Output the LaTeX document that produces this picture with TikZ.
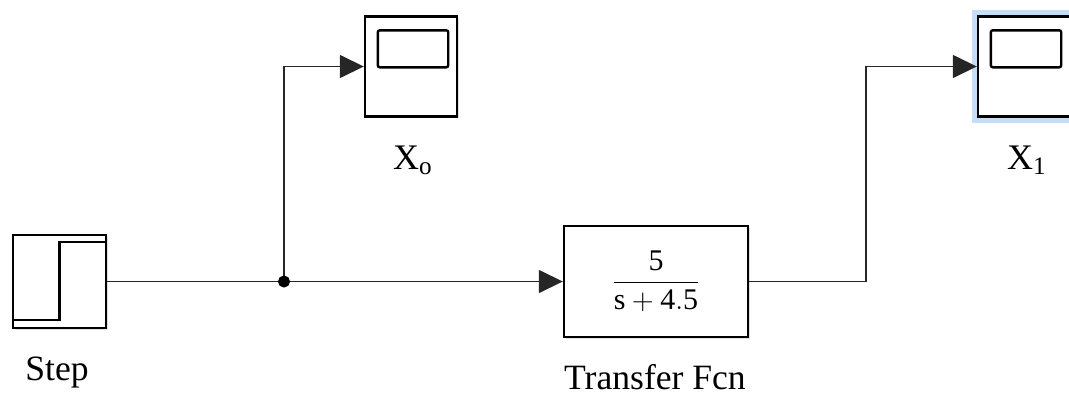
\documentclass[tikz,border=0pt]{standalone}
\usepackage{amsmath}
\usepackage{fontspec}
\setmainfont{Liberation Serif}
\usepackage{tikz}
\usetikzlibrary{arrows.meta}
\usetikzlibrary{shadows}
\usepackage{xcolor}
\definecolor{selblue}{RGB}{197,221,247}

\begin{document}
\begin{tikzpicture}[x=0.5pt,y=-0.5pt,
    block/.style={draw, line width=1.2pt, fill=white, inner sep=0pt,
        drop shadow={shadow xshift=0.8pt, shadow yshift=-0.8pt, opacity=0.25}},
    scopebox/.style={block, minimum width=46pt, minimum height=50pt},
    sig/.style={line width=0.75pt, draw=black!85},
    sigarrow/.style={sig, -{Triangle[length=12pt,width=11.5pt]}},
    lbl/.style={font=\fontsize{17.8}{20}\selectfont, inner sep=0pt}]
\useasboundingbox (0,0) rectangle (1069,397);
% blocks
\node[block, minimum width=46.5pt, minimum height=46.5pt] (step) at (59.5,281.5) {};
\node[scopebox] (scopeo) at (411,66.5) {};
\fill[selblue] (972,10) rectangle (1080,123);
\node[scopebox] (scopei) at (1024,66.5) {};
\node[block, minimum width=92pt, minimum height=55.5pt,
    font=\fontsize{15}{17}\selectfont] (tf) at (656,281.5)
    {$\dfrac{\mathrm{5}}{\mathrm{s}+\mathrm{4.5}}$};
% block insides
\draw[line width=1.2pt] ([yshift=-4pt]step.north east) -- ([yshift=-4pt]step.north)
    -- ([yshift=4.5pt]step.south) -- ([yshift=4.5pt]step.south west);
\foreach \s in {scopeo,scopei}
    \draw[line width=1.2pt, rounded corners=1pt] ([xshift=7pt,yshift=-7.5pt]\s.north west)
        rectangle ([xshift=-5pt,yshift=-26pt]\s.north east);
% labels
\node[lbl] (steplbl) at (57,372) {Step};
\node[lbl, font=\fontsize{18}{20}\selectfont] (xolbl) at (413,160) {$\mathrm{X_o}$};
\node[lbl, font=\fontsize{18}{20}\selectfont] (xilbl) at (1027,160) {$\mathrm{X_1}$};
\node[lbl] (tflbl) at (655,377) {Transfer Fcn};
% signals
\coordinate (split) at (284,281.5);
\coordinate (turn) at (866,281.5);
\draw[sig] (step.east) -- (split);
\draw[sigarrow] (split) -- (tf.west);
\draw[sigarrow] (split) |- (scopeo.west);
\draw[sigarrow] (tf.east) -- (turn) |- (scopei.west);
\filldraw[black] (split) circle(2.8pt);
\end{tikzpicture}
\end{document}
